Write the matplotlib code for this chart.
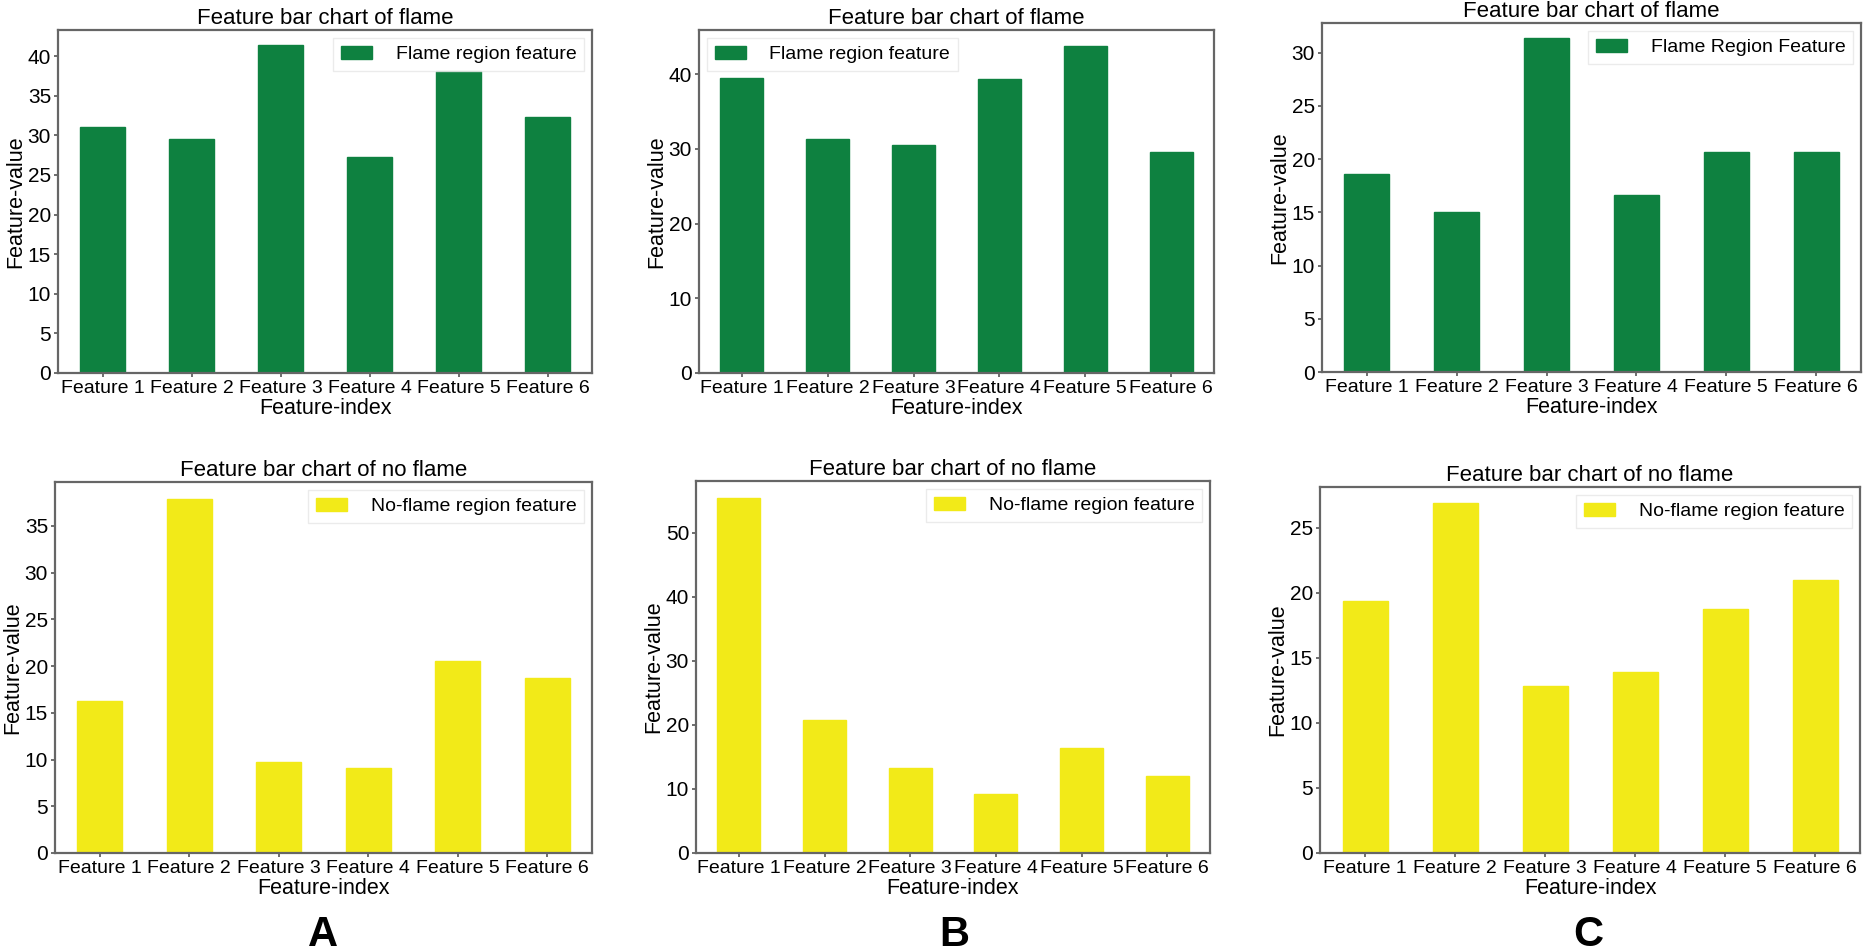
import matplotlib
matplotlib.use("Agg")
import matplotlib.pyplot as plt
from matplotlib.ticker import MultipleLocator
import numpy as np

plt.rcParams['font.family'] = ['Liberation Sans', 'DejaVu Sans']

features = ["Feature 1", "Feature 2", "Feature 3", "Feature 4", "Feature 5", "Feature 6"]

# flame region features (top row)
flame_a = [31.0, 29.5, 41.4, 27.3, 38.1, 32.3]
flame_b = [39.5, 31.3, 30.5, 39.4, 43.8, 29.6]
flame_c = [18.6, 15.0, 31.35, 16.6, 20.7, 20.7]

# no-flame region features (bottom row)
noflame_a = [16.3, 37.9, 9.7, 9.1, 20.5, 18.7]
noflame_b = [55.4, 20.7, 13.2, 9.2, 16.4, 12.0]
noflame_c = [19.4, 26.9, 12.85, 13.9, 18.8, 21.0]

green = "#0e8140"
yellow = "#f2ea18"

W, H = 1866, 952
fig = plt.figure(figsize=(W / 100, H / 100), dpi=100)

def box(x0, y0, x1, y1):
    return [x0 / W, 1 - y1 / H, (x1 - x0) / W, (y1 - y0) / H]

panels = [
    # values, color, legend label, title, legend loc, ylim top, tick step, pixel box
    (flame_a, green, "Flame region feature", "Feature bar chart of flame", "upper right", 43.3, 5, box(58, 30, 592, 373)),
    (flame_b, green, "Flame region feature", "Feature bar chart of flame", "upper left", 45.9, 10, box(699, 30, 1214, 373)),
    (flame_c, green, "Flame Region Feature", "Feature bar chart of flame", "upper right", 32.8, 5, box(1322, 23, 1861, 372)),
    (noflame_a, yellow, "No-flame region feature", "Feature bar chart of no flame", "upper right", 39.7, 5, box(55, 482, 592, 853)),
    (noflame_b, yellow, "No-flame region feature", "Feature bar chart of no flame", "upper right", 58.1, 10, box(696, 481, 1210, 853)),
    (noflame_c, yellow, "No-flame region feature", "Feature bar chart of no flame", "upper right", 28.15, 5, box(1320, 487, 1860, 853)),
]

for vals, col, lab, title, loc, ytop, step, rect in panels:
    ax = fig.add_axes(rect)
    x = np.arange(len(features))
    ax.bar(x, vals, width=0.5, color=col, edgecolor=col, label=lab)
    ax.set_xlim(-0.5, len(features) - 0.5)
    ax.set_ylim(0, ytop)
    ax.yaxis.set_major_locator(MultipleLocator(step))
    ax.set_xticks(x)
    ax.set_xticklabels(features, fontsize=14)
    ax.tick_params(axis='y', labelsize=15)
    ax.tick_params(length=3, width=1.2, color="#555555", pad=2)
    ax.set_xlabel("Feature-index", fontsize=15.5, labelpad=1)
    ax.set_ylabel("Feature-value", fontsize=15.5, labelpad=1)
    ax.set_title(title, fontsize=16, pad=4)
    for s in ax.spines.values():
        s.set_color("#666666")
        s.set_linewidth(1.6)
    leg = ax.legend(loc=loc, fontsize=14, frameon=True, fancybox=False,
                    borderaxespad=0.4, handlelength=1.6, handletextpad=1.2)
    leg.get_frame().set_edgecolor("#e6e6e6")

for letter, xc in [("A", 323), ("B", 954), ("C", 1588)]:
    fig.text(xc / W, 1 - 935 / H, letter, fontsize=30, fontweight="bold",
             ha="center", va="center")

fig.savefig("out.png", dpi=100)
